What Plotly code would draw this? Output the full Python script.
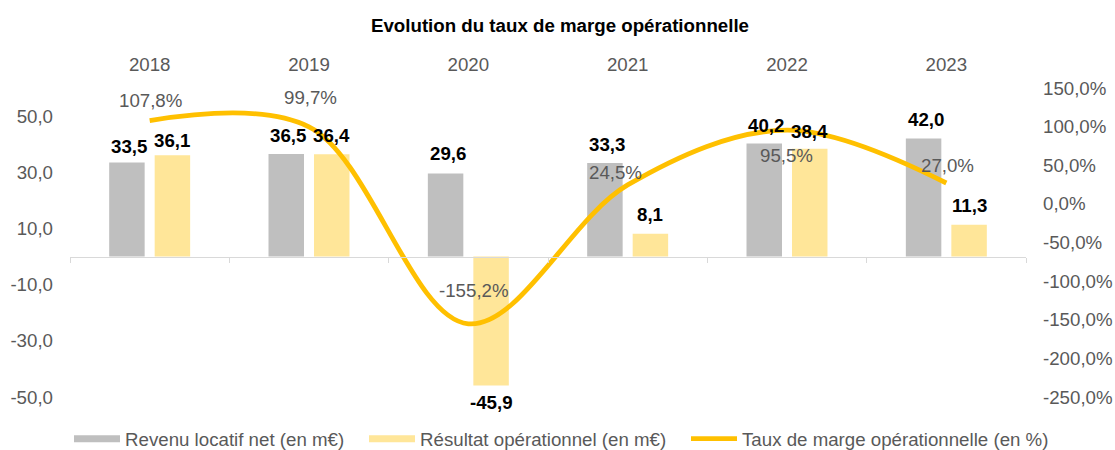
import plotly.graph_objects as go

# ---- data ----
years = ["2018", "2019", "2020", "2021", "2022", "2023"]
revenu = [33.5, 36.5, 29.6, 33.3, 40.2, 42.0]          # Revenu locatif net (en m€)
resultat = [36.1, 36.4, -45.9, 8.1, 38.4, 11.3]        # Résultat opérationnel (en m€)
taux = [107.8, 99.7, -155.2, 24.5, 95.5, 27.0]         # Taux de marge opérationnelle (en %)
left_ticks = [-50, -30, -10, 10, 30, 50]
right_ticks = [-250, -200, -150, -100, -50, 0, 50, 100, 150]

names = ["Revenu locatif net (en m€)", "Résultat opérationnel (en m€)",
         "Taux de marge opérationnelle (en %)"]

# ---- style ----
FONT = "Liberation Sans, Arial, sans-serif"
FS = 18.7
GRAY_TXT = "#595959"
C_GRAY = "#BFBFBF"
C_YEL = "#FFE699"
C_LINE = "#FFC000"

# label offsets (px)
taux_dx = [1, 1, 6, -12, -1, 1]
taux_dy = [20, 29, 33, 12, -25, 18]
rev_dy = [15.5, 18.5, 19.5, 19, 18.5, 19]
res_dy = [15, 19, -17, 19.5, 17, 19]
BAR_DX = 22.75
legend_x = [69, 364, 686]   # left edge of each legend entry (px)


def fmt(v, suffix=""):
    return f"{v:.1f}".replace(".", ",") + suffix


fig = go.Figure()

fig.add_trace(go.Bar(x=years, y=revenu, name=names[0], marker_color=C_GRAY,
                     showlegend=False, xaxis="x", yaxis="y"))
fig.add_trace(go.Bar(x=years, y=resultat, name=names[1], marker_color=C_YEL,
                     showlegend=False, xaxis="x", yaxis="y"))
# legend swatches (wide rectangles like the reference)
fig.add_trace(go.Scatter(x=years, y=[None] * len(years), mode="lines", name=names[0],
                         line=dict(color=C_GRAY, width=7), xaxis="x", yaxis="y",
                         hoverinfo="skip", legend="legend"))
fig.add_trace(go.Scatter(x=years, y=[None] * len(years), mode="lines", name=names[1],
                         line=dict(color=C_YEL, width=7), xaxis="x", yaxis="y",
                         hoverinfo="skip", legend="legend2"))
fig.add_trace(go.Scatter(x=years, y=taux, mode="lines", name=names[2],
                         line=dict(color=C_LINE, width=4.8, shape="spline", smoothing=1),
                         xaxis="x2", yaxis="y2", legend="legend3"))

annotations = []
for i in range(len(years)):
    v = revenu[i]
    annotations.append(dict(x=i, y=v, xref="x", yref="y", text="<b>" + fmt(v) + "</b>",
                            showarrow=False, xshift=-BAR_DX + 2, yshift=rev_dy[i],
                            font=dict(size=FS, color="black")))
    v = resultat[i]
    annotations.append(dict(x=i, y=v, xref="x", yref="y", text="<b>" + fmt(v) + "</b>",
                            showarrow=False, xshift=BAR_DX, yshift=res_dy[i],
                            font=dict(size=FS, color="black")))
    annotations.append(dict(x=i, y=taux[i], xref="x2", yref="y2", text=fmt(taux[i], "%"),
                            showarrow=False, xshift=taux_dx[i], yshift=taux_dy[i],
                            font=dict(size=FS, color=GRAY_TXT)))

L_MIN, L_MAX = -50, 60


def leg(xpx):
    return dict(orientation="h", xref="container", x=xpx / 1115, xanchor="left",
                yref="container", y=1 - 439 / 450, yanchor="middle",
                itemwidth=46, font=dict(family=FONT, size=FS, color=GRAY_TXT),
                bgcolor="rgba(0,0,0,0)", borderwidth=0)


fig.update_layout(
    template="none",
    width=1115, height=450,
    margin=dict(l=70, r=88.5, t=88, b=53, autoexpand=False),
    paper_bgcolor="white", plot_bgcolor="white",
    font=dict(family=FONT, size=FS, color=GRAY_TXT),
    barmode="group", bargap=0.429, bargroupgap=0.22,
    title=dict(text="<b>Evolution du taux de marge opérationnelle</b>",
               font=dict(family=FONT, size=FS, color="black"),
               x=560 / 1115, xanchor="center", xref="container",
               y=1 - 25 / 450, yanchor="middle", yref="container"),
    xaxis=dict(type="category", categoryarray=years, range=[-0.5, 5.5], side="top",
               showline=False, showgrid=False, zeroline=False, ticks="", automargin=False,
               ticklabelstandoff=12, tickfont=dict(family=FONT, size=FS, color=GRAY_TXT)),
    xaxis2=dict(type="category", categoryarray=years, range=[-0.5, 5.5],
                overlaying="x", anchor="free", position=(0 - L_MIN) / (L_MAX - L_MIN),
                side="bottom", showline=True, linecolor="#D9D9D9", linewidth=1.3,
                ticks="outside", ticklen=5, tickcolor="#D9D9D9", tickwidth=1.3,
                tickson="boundaries", showticklabels=False, showgrid=False, zeroline=False,
                automargin=False),
    yaxis=dict(range=[L_MIN, L_MAX], tickvals=left_ticks,
               ticktext=[fmt(t) for t in left_ticks], automargin=False,
               showgrid=False, zeroline=False, showline=False, ticks="",
               ticklabelstandoff=16, tickfont=dict(family=FONT, size=FS, color=GRAY_TXT)),
    yaxis2=dict(range=[-250, 150], tickvals=right_ticks,
                ticktext=[fmt(t, "%") for t in right_ticks], automargin=False,
                overlaying="y", side="right", anchor="x",
                showgrid=False, zeroline=False, showline=False, ticks="",
                ticklabelstandoff=16, tickfont=dict(family=FONT, size=FS, color=GRAY_TXT)),
    legend=leg(legend_x[0]),
    legend2=leg(legend_x[1]),
    legend3=leg(legend_x[2]),
    annotations=annotations,
    showlegend=True,
    hovermode=False,
)

fig.write_html("out.html", config={"displayModeBar": False},
               post_script="document.body.style.margin='0';")
